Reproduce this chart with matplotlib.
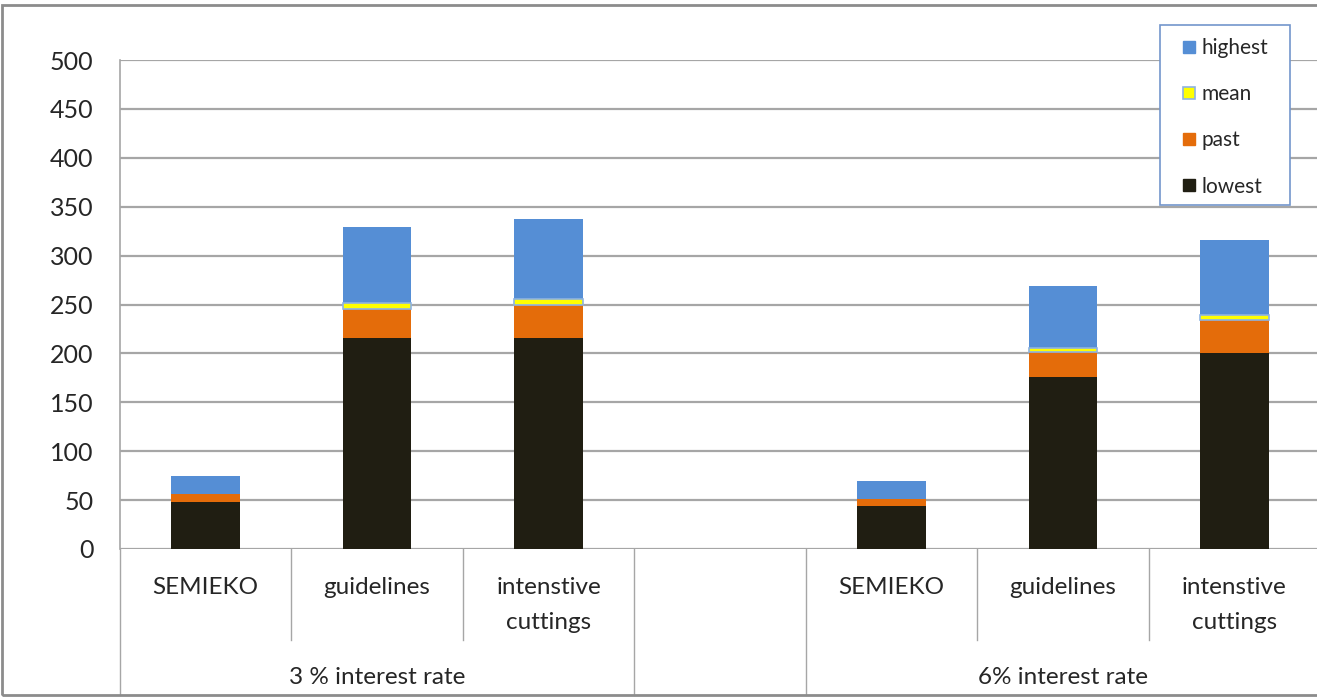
import matplotlib.pyplot as plt
from matplotlib.lines import Line2D
from matplotlib.patches import Rectangle
import matplotlib.transforms as mtransforms
import numpy as np

plt.rcParams['font.family'] = ['Lato', 'DejaVu Sans']

# slots: 3 % group, empty gap, 6 % group
categories = ["SEMIEKO", "guidelines", "intenstive\ncuttings", "",
              "SEMIEKO", "guidelines", "intenstive\ncuttings"]
groups = ["3 % interest rate", "", "6% interest rate"]
group_spans = [(0, 2), (3, 3), (4, 6)]

# stacked segment heights
lowest = [48, 216, 216, 0, 44, 176, 200]
past = [8, 29, 33, 0, 7, 25, 34]
mean = [0, 7, 7, 0, 0, 5, 5]
highest = [19, 77, 81, 0, 19, 63, 77]

c_low = "#201e12"
c_past = "#e46c0a"
c_mean = "#ffff00"
c_high = "#558ed5"
grid_c = "#a6a6a6"
text_c = "#262626"

fig = plt.figure(figsize=(13.17, 6.98), dpi=100)
W, H = 1317, 698
ax = fig.add_axes([120 / W, (H - 549) / H, 1200 / W, 489 / H])

x = np.arange(len(categories))
low = np.array(lowest, float)
pst = np.array(past, float)
mn = np.array(mean, float)
hi = np.array(highest, float)
show = np.array([c != "" for c in categories])
bw = 0.4

ax.bar(x[show], low[show], bw, color=c_low, zorder=3)
ax.bar(x[show], pst[show], bw, bottom=low[show], color=c_past, zorder=3)
ax.bar(x[show], hi[show], bw, bottom=(low + pst + mn)[show], color=c_high, zorder=3)
ax.bar(x[show], mn[show], bw, bottom=(low + pst)[show], color=c_mean,
       edgecolor="#8db3e2", linewidth=np.where(mn[show] > 0, 1.2, 0), zorder=4)

ax.set_xlim(-0.5, len(categories) - 0.5)
ax.set_ylim(0, 500)
ax.set_yticks(range(0, 501, 50))
ax.yaxis.grid(True, color=grid_c, linewidth=1.6, zorder=0)
ax.tick_params(axis="y", length=0, labelsize=18, labelcolor=text_c, pad=19)
ax.set_xticks([])
for s in ["top", "right", "bottom"]:
    ax.spines[s].set_visible(False)
ax.spines["left"].set_color(grid_c)
ax.spines["left"].set_linewidth(1.2)

# multi-level category axis
trans = mtransforms.blended_transform_factory(ax.transData, ax.transAxes)
y_inner = (549 - 640) / 489
y_outer = (549 - 695) / 489
bounds = set()
for a, b in group_spans:
    bounds.add(a - 0.5)
    bounds.add(b + 0.5)
for b in np.arange(-0.5, len(categories), 1.0):
    ybot = y_outer if b in bounds else y_inner
    ax.plot([b, b], [0, ybot], color=grid_c, lw=1.0, transform=trans, clip_on=False)

for xi, lab in zip(x, categories):
    yc = 605 if "\n" in lab else 587
    ax.text(xi, (549 - yc) / 489, lab, transform=trans, ha="center", va="center",
            fontsize=17.5, color=text_c, linespacing=1.8)

for (a, b), g in zip(group_spans, groups):
    ax.text((a + b) / 2, (549 - 677) / 489, g, transform=trans, ha="center",
            va="center", fontsize=17.5, color=text_c)

# outer chart frame
fig.patches.append(Rectangle((2 / W, 3 / H), 1.2, 1 - 8 / H, transform=fig.transFigure,
                             fill=False, edgecolor="#8c8c8c", linewidth=2))

# legend box
fig.patches.append(Rectangle((1160 / W, 1 - 205 / H), 130 / W, 180 / H,
                             transform=fig.transFigure, facecolor="white",
                             edgecolor="#7396cc", linewidth=1.2, zorder=5))

handles = [Line2D([], [], ls="none", marker="s", ms=8.6, mfc=c_high, mec=c_high, label="highest"),
           Line2D([], [], ls="none", marker="s", ms=8.6, mfc=c_mean, mec="#8db3e2", mew=1.2, label="mean"),
           Line2D([], [], ls="none", marker="s", ms=8.6, mfc=c_past, mec=c_past, label="past"),
           Line2D([], [], ls="none", marker="s", ms=8.6, mfc=c_low, mec=c_low, label="lowest")]
leg = fig.legend(handles=handles, loc="upper left",
                 bbox_to_anchor=(1160 / W, 1 - 28 / H), bbox_transform=fig.transFigure,
                 fontsize=15, handlelength=1.79, handletextpad=-0.32,
                 labelspacing=1.25, borderpad=0.5, borderaxespad=0, frameon=False,
                 labelcolor=text_c)
leg.set_zorder(6)

fig.savefig("out.png", dpi=100, facecolor="white")
